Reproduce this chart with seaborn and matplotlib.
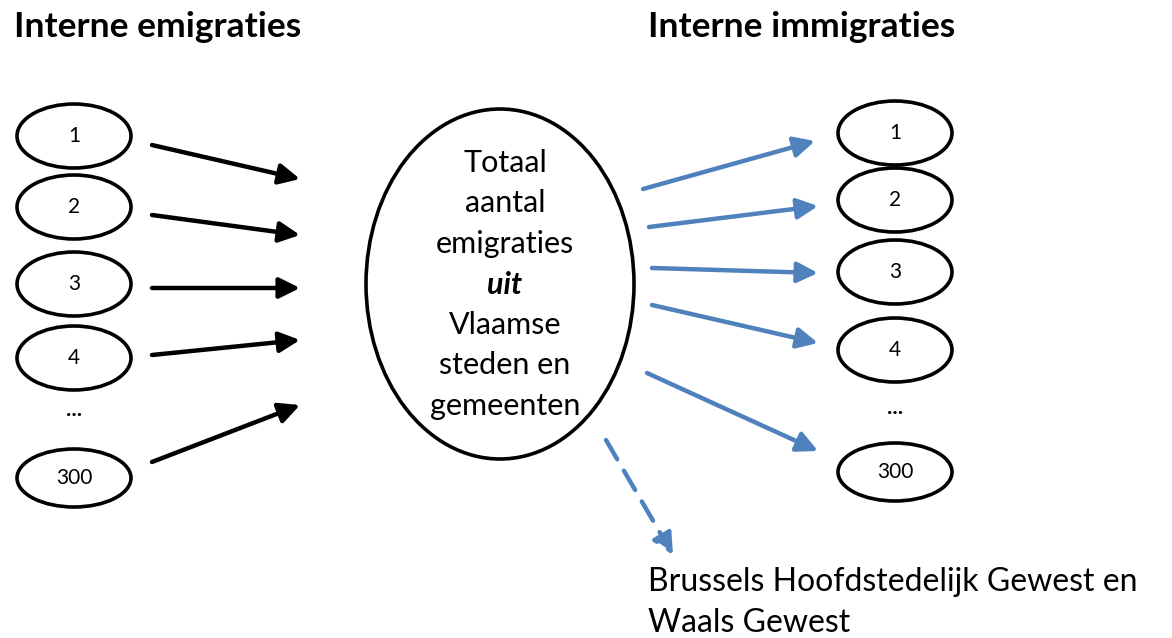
# %%
# import libraries
import matplotlib.pyplot as plt
import seaborn as sns
from matplotlib.patches import Ellipse

# %%
# Diagram content
left_title = "Interne emigraties"
right_title = "Interne immigraties"
node_labels = ["1", "2", "3", "4", "...", "300"]
center_lines = ["Totaal", "aantal", "emigraties", "uit", "Vlaamse", "steden en", "gemeenten"]
bottom_lines = ["Brussels Hoofdstedelijk Gewest en", "Waals Gewest"]

# layout (pixel space)
left_node_y = [136, 207, 284, 358, 413, 478]
right_node_y = [133, 200, 272, 350, 412, 472]
left_arrows = [((152, 145), (300, 179)), ((152, 215), (300, 235)), ((152, 288), (300, 288)),
               ((152, 355), (300, 340)), ((152, 462), (300, 405))]
right_arrows = [((643, 189), (815, 141)), ((649, 227), (818, 206)), ((652, 268), (818, 273)),
                ((652, 305), (818, 343)), ((647, 373), (818, 451))]

blue = "#4F81BD"

# %%
sns.set_style("white")
plt.rcParams["font.family"] = ["Lato", "DejaVu Sans"]
plt.rcParams["text.color"] = "black"

fig = plt.figure(figsize=(11.72, 6.38), dpi=100)
ax = fig.add_axes([0, 0, 1, 1])
ax.set_xlim(0, 1172)
ax.set_ylim(638, 0)
ax.axis("off")

ax.text(14, 27, left_title, fontsize=25.5, fontweight="bold", va="center", ha="left")
ax.text(648, 27, right_title, fontsize=25.5, fontweight="bold", va="center", ha="left")

# small nodes
for xc, ys in [(74, left_node_y), (895, right_node_y)]:
    for lab, y in zip(node_labels, ys):
        if lab == "...":
            ax.text(xc, y - 4, "...", fontsize=16, fontweight="bold", ha="center", va="center")
            continue
        h = 58 if lab == "300" else 64
        ax.add_patch(Ellipse((xc, y), 114, h, fill=False, lw=2.6, ec="black"))
        ax.text(xc, y, lab, fontsize=15, ha="center", va="center")

# central ellipse
ax.add_patch(Ellipse((500, 284), 268, 350, fill=False, lw=2.6, ec="black"))
for i, line in enumerate(center_lines):
    kw = dict(fontweight="bold", fontstyle="italic") if line == "uit" else {}
    ax.text(505, 163 + i * 40.5, line, fontsize=22, ha="center", va="center", **kw)

# arrows
head = "-|>,head_length=1.25,head_width=0.62"
for (s, e) in left_arrows:
    ax.annotate("", xy=e, xytext=s,
                arrowprops=dict(arrowstyle=head, lw=3.2, color="black", shrinkA=0, shrinkB=0))
for (s, e) in right_arrows:
    ax.annotate("", xy=e, xytext=s,
                arrowprops=dict(arrowstyle=head, lw=3.2, color=blue, shrinkA=0, shrinkB=0))
ax.annotate("", xy=(673, 555), xytext=(606, 440),
            arrowprops=dict(arrowstyle=head, lw=3.2, color=blue, ls=(0, (5, 3)),
                            shrinkA=0, shrinkB=0))

for i, line in enumerate(bottom_lines):
    ax.text(648, 582 + i * 41, line, fontsize=23, ha="left", va="center")

fig.savefig("out.png", dpi=100)
